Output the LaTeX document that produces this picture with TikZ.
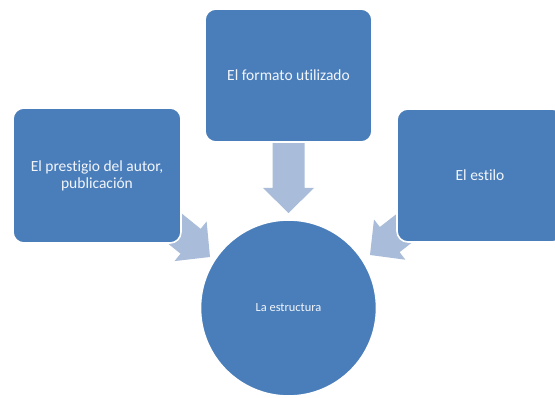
\documentclass[tikz,border=0pt]{standalone}
\usepackage{fontspec}
\setmainfont[Ligatures=NoCommon]{Carlito}
\definecolor{boxblue}{HTML}{4A7EBB}
\definecolor{arrowblue}{HTML}{A9BCDA}
\definecolor{textwhite}{HTML}{F2F5FA}
\newcommand\blockarrow[2]{%
  \fill[arrowblue, shift={#1}, rotate=#2]
    (0,0) -- (-25,25.5) -- (-25,16) -- (-72,16) -- (-72,-16) -- (-25,-16) -- (-25,-25.5) -- cycle;}
\begin{document}
\begin{tikzpicture}[x=1pt,y=1pt,
  card/.style={rectangle, rounded corners=11pt, fill=boxblue, draw=white, line width=1.6pt,
    text=textwhite, align=center, inner sep=0pt, font=\fontsize{15.5}{17}\selectfont},
  hub/.style={circle, fill=boxblue, draw=white, line width=1.6pt, text=textwhite,
    inner sep=0pt, minimum size=176pt, font=\fontsize{12.4}{14}\selectfont}]
\useasboundingbox (0,0) rectangle (555,397);
\clip (0,0) rectangle (555,397);
\fill[white] (0,0) rectangle (555,397);
% arrows (drawn first, tails hidden under cards)
\coordinate (tipT) at (288.5,184);
\coordinate (tipL) at (210,140);
\coordinate (tipR) at (370,142);
\blockarrow{(tipT)}{-90}
\blockarrow{(tipL)}{-39}
\blockarrow{(tipR)}{218}
% cards
\node[card, minimum width=167pt, minimum height=133pt] (top) at (288.5,321.5) {El formato utilizado};
\node[card, minimum width=168pt, minimum height=135pt] (left) at (97,221.5) {El prestigio del autor,\\publicación};
\node[card, minimum width=166pt, minimum height=133pt] (right) at (480,221.5) {El estilo};
\node[hub] (hubc) at (288.5,89) {La estructura};
\end{tikzpicture}
\end{document}
